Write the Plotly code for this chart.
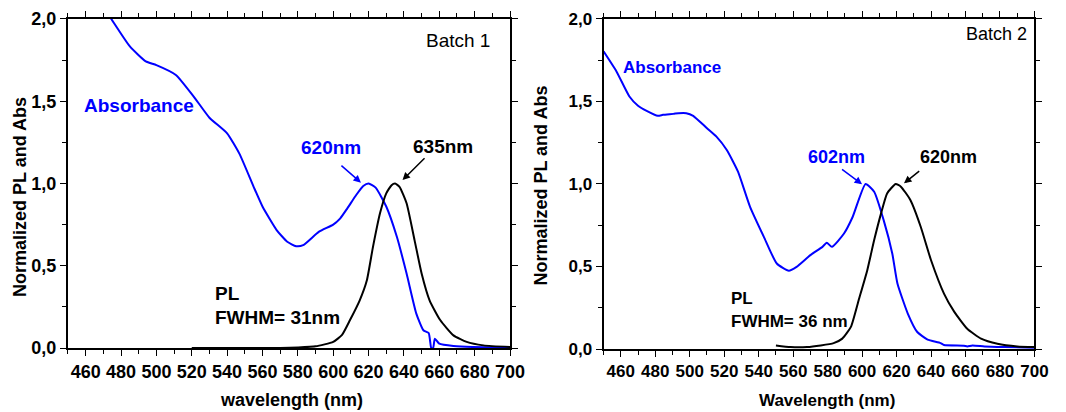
import plotly.graph_objects as go

# ---------------- data ----------------
# Batch 1
abs1_wl = [472, 474.5, 485, 494, 500, 511, 521, 530, 540, 547, 555, 560, 568, 574, 579, 583, 592,
           600, 604, 608, 613, 617, 620, 624, 630, 636, 641.5, 647, 651, 654, 655.5, 656.5, 657.5,
           660, 668, 679, 700]
abs1_y = [2.04, 2.0, 1.833, 1.742, 1.72, 1.66, 1.53, 1.40, 1.305, 1.18, 0.98, 0.86, 0.717, 0.646,
          0.619, 0.625, 0.707, 0.75, 0.788, 0.849, 0.93, 0.985, 1.0, 0.975, 0.86, 0.676, 0.453,
          0.209, 0.108, 0.091, -0.004, 0.0, 0.057, 0.026, 0.012, 0.006, 0.004]

pl1_wl = [520, 550, 570, 580, 590, 600, 605, 609.5, 615, 619, 622.5, 626.5, 630, 633, 635, 637.5,
          641.5, 646, 650, 654.5, 660.5, 668, 675.5, 685, 700]
pl1_y = [0.0, 0.0, 0.0, 0.003, 0.01, 0.037, 0.08, 0.17, 0.29, 0.41, 0.615, 0.82, 0.94, 0.99, 1.0,
         0.98, 0.88, 0.656, 0.453, 0.29, 0.17, 0.077, 0.037, 0.016, 0.006]

# Batch 2
abs2_wl = [450, 457.5, 465, 470, 475, 481.5, 484.5, 490.5, 493.5, 498, 502, 510, 515.5, 521.5, 528,
           535, 543, 550.5, 557.5, 562, 570, 577, 579.5, 582.5, 589.5, 594.5, 602, 607, 612.5,
           617.5, 620.5, 626.5, 632, 638, 645.5, 647.5, 659, 661, 664, 671, 682.5, 700]
abs2_y = [1.804, 1.682, 1.53, 1.474, 1.443, 1.413, 1.419, 1.425, 1.429, 1.429, 1.413, 1.338, 1.287,
          1.206, 1.075, 0.862, 0.68, 0.518, 0.474, 0.498, 0.569, 0.619, 0.644, 0.619, 0.70, 0.80,
          1.0, 0.953, 0.781, 0.579, 0.397, 0.215, 0.103, 0.057, 0.036, 0.024, 0.02, 0.016, 0.022,
          0.016, 0.012, 0.008]

pl2_wl = [550, 558.5, 568, 576, 583.5, 588.5, 593.5, 598, 603, 607, 611, 614.5, 619.5, 622.5, 628,
          634, 640, 647.5, 653.5, 661, 669, 678.5, 690, 700]
pl2_y = [0.022, 0.012, 0.012, 0.022, 0.036, 0.063, 0.134, 0.296, 0.478, 0.66, 0.822, 0.943, 1.0,
         0.984, 0.903, 0.741, 0.538, 0.336, 0.225, 0.123, 0.063, 0.032, 0.016, 0.012]

x_range = [450, 700]
y_range = [0, 2.0]

BLUE = "#0000ff"
FONT = "Liberation Sans, Arial, sans-serif"


def line(color):
    return dict(color=color, width=2, shape="spline", smoothing=0.5)


fig = go.Figure()
fig.add_trace(go.Scatter(x=abs1_wl, y=abs1_y, mode="lines", line=line(BLUE),
                         xaxis="x", yaxis="y", showlegend=False))
fig.add_trace(go.Scatter(x=pl1_wl, y=pl1_y, mode="lines", line=line("black"),
                         xaxis="x", yaxis="y", showlegend=False))
fig.add_trace(go.Scatter(x=abs2_wl, y=abs2_y, mode="lines", line=line(BLUE),
                         xaxis="x2", yaxis="y2", showlegend=False))
fig.add_trace(go.Scatter(x=pl2_wl, y=pl2_y, mode="lines", line=line("black"),
                         xaxis="x2", yaxis="y2", showlegend=False))


def xax(domain, anchor, size):
    return dict(domain=domain, anchor=anchor, range=x_range, dtick=20, tick0=0, automargin=False,
                showgrid=False, zeroline=False, showline=True, linewidth=2, linecolor="black",
                mirror="ticks", ticks="outside", ticklen=6, tickwidth=1, tickcolor="black",
                minor=dict(dtick=10, ticks="outside", ticklen=4, tickcolor="black"),
                tickfont=dict(family=FONT, size=size, color="black", weight="bold"))


def yax(domain, anchor, size):
    return dict(domain=domain, anchor=anchor, range=y_range, dtick=0.5, tick0=0, tickformat=".1f",
                automargin=False,
                showgrid=False, zeroline=False, showline=True, linewidth=2, linecolor="black",
                mirror="ticks", ticks="outside", ticklen=6, tickwidth=1, tickcolor="black",
                minor=dict(dtick=0.25, ticks="outside", ticklen=4, tickcolor="black"),
                tickfont=dict(family=FONT, size=size, color="black", weight="bold"))


# the page body has an 8px margin, so the figure is 8px smaller than the window
fig.update_layout(
    width=1058, height=404,
    margin=dict(l=0, r=0, t=0, b=0),
    paper_bgcolor="white", plot_bgcolor="white",
    separators=",.",
    xaxis=xax([0.0567, 0.4745], "y", 18),
    yaxis=yax([0.1584, 0.9728], "x", 18),
    xaxis2=xax([0.5629, 0.9702], "y2", 17),
    yaxis2=yax([0.1559, 0.9728], "x2", 17),
)

ann = []


def txt(x, y, text, xr, yr, size, color="black", bold=True, xanchor="left"):
    ann.append(dict(x=x, y=y, xref=xr, yref=yr, text=text, showarrow=False, xanchor=xanchor,
                    yanchor="middle",
                    font=dict(family=FONT, size=size, color=color, weight="bold" if bold else "normal")))


def arrow(x0, y0, x1, y1, xr, yr, color):
    ann.append(dict(x=x1, y=y1, ax=x0, ay=y0, xref=xr, yref=yr, axref=xr, ayref=yr, text="",
                    showarrow=True, arrowhead=2, arrowsize=1, arrowwidth=1.5, arrowcolor=color))


# Left panel texts
txt(690, 1.872, "Batch 1", "x", "y", 19, bold=False, xanchor="right")
txt(457.9, 1.477, "Absorbance", "x", "y", 19, color=BLUE)
txt(598.6, 1.216, "620nm", "x", "y", 19, color=BLUE, xanchor="center")
txt(661.9, 1.222, "635nm", "x", "y", 19, xanchor="center")
txt(532.1, 0.334, "PL", "x", "y", 19)
txt(532.1, 0.188, "FWHM= 31nm", "x", "y", 19)
arrow(603.8, 1.117, 615.7, 1.005, "x", "y", BLUE)
arrow(652.5, 1.163, 639.2, 1.021, "x", "y", "black")

# Right panel texts
txt(697, 1.909, "Batch 2", "x2", "y2", 18, bold=False, xanchor="right")
txt(460, 1.709, "Absorbance", "x2", "y2", 17, color=BLUE)
txt(585, 1.164, "602nm", "x2", "y2", 18, color=BLUE, xanchor="center")
txt(650, 1.164, "620nm", "x2", "y2", 18, xanchor="center")
txt(522.5, 0.309, "PL", "x2", "y2", 17)
txt(522.5, 0.164, "FWHM= 36 nm", "x2", "y2", 17)
arrow(587.5, 1.095, 600, 0.998, "x2", "y2", BLUE)
arrow(634, 1.085, 624.3, 1.004, "x2", "y2", "black")

# Axis titles
ann.append(dict(x=0.0, y=0.5322, xref="paper", yref="paper", text="Normalized PL and Abs",
                textangle=-90, showarrow=False, xanchor="left", yanchor="middle",
                font=dict(family=FONT, size=18, color="black", weight="bold")))
ann.append(dict(x=0.5038, y=0.5604, xref="paper", yref="paper", text="Normalized PL and Abs",
                textangle=-90, showarrow=False, xanchor="center", yanchor="middle",
                font=dict(family=FONT, size=18, color="black", weight="bold")))
ann.append(dict(x=0.2684, y=0.0297, xref="paper", yref="paper", text="wavelength (nm)",
                showarrow=False, xanchor="center", yanchor="middle",
                font=dict(family=FONT, size=18, color="black", weight="bold")))
ann.append(dict(x=0.7738, y=0.0297, xref="paper", yref="paper", text="Wavelength (nm)",
                showarrow=False, xanchor="center", yanchor="middle",
                font=dict(family=FONT, size=17, color="black", weight="bold")))

fig.update_layout(annotations=ann)

fig.write_html("out.html")
